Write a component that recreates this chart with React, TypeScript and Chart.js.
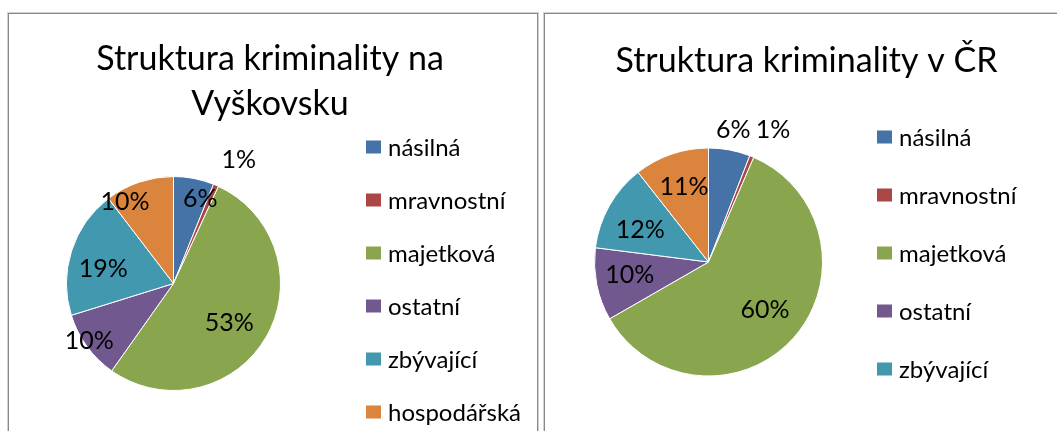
import React, { useEffect, useRef } from 'react';
import { Chart, registerables } from 'chart.js';

Chart.register(...registerables);

const FONT = 'Lato, "Noto Sans", sans-serif';

// ---- data ----
const categories = ['násilná', 'mravnostní', 'majetková', 'ostatní', 'zbývající', 'hospodářská'];
const vyskovValues = [6.1, 0.8, 52.9, 10.4, 19.4, 10.4];
const crValues = [5.9, 0.6, 60.2, 10.3, 12.4, 10.6];
const vyskovTitle = ['Struktura kriminality na', 'Vyškovsku'];
const crTitle = ['Struktura kriminality v ČR'];
const vyskovLegendCount = 6;
const crLegendCount = 5;

// ---- styles / placement ----
const sliceColors = ['#4572A7', '#AA4643', '#89A54E', '#71588F', '#4198AF', '#DB843D'];
const vyskovLabelShift = [6.5, 4.4, 5.5, 1.9, -5.9, -11.8];
const vyskovLabelDist = [0.83, 1.31, 0.64, 0.95, 0.67, 0.89];
const crLabelShift = [0, 3.7, -1.4, 1.7, -4.4, 1];
const crLabelDist = [1.18, 1.29, 0.65, 0.7, 0.66, 0.69];

const CW = 528;
const CH = 470;

const panelPlugin = {
  id: 'panel',
  afterDatasetsDraw(chart: any, _args: any, opts: any) {
    const { ctx } = chart;
    const meta = chart.getDatasetMeta(0);
    const ds = chart.data.datasets[0];
    const values = ds.data as number[];
    const total = values.reduce((a: number, b: number) => a + b, 0);
    ctx.save();
    // data labels
    ctx.fillStyle = '#000';
    ctx.textAlign = 'center';
    ctx.textBaseline = 'middle';
    ctx.font = `${opts.labelSize}px ${FONT}`;
    meta.data.forEach((arc: any, i: number) => {
      const mid = (arc.startAngle + arc.endAngle) / 2 + (opts.labelShift[i] * Math.PI) / 180;
      const d = arc.outerRadius * opts.labelDist[i];
      const x = arc.x + Math.cos(mid) * d;
      const y = arc.y + Math.sin(mid) * d;
      ctx.fillText(`${Math.round((values[i] / total) * 100)}%`, x, y);
    });
    // title
    ctx.font = `${opts.titleSize}px ${FONT}`;
    ctx.textBaseline = 'alphabetic';
    ctx.textAlign = 'center';
    (opts.title as string[]).forEach((line, i) => {
      ctx.fillText(line, opts.titleX, opts.titleY + i * opts.titleLineHeight);
    });
    // legend
    ctx.textAlign = 'left';
    ctx.textBaseline = 'middle';
    ctx.font = `${opts.legendSize}px ${FONT}`;
    const labels = (chart.data.labels as string[]).slice(0, opts.legendCount);
    labels.forEach((lab, i) => {
      const cy = opts.legendY + i * opts.legendStep;
      ctx.fillStyle = ds.backgroundColor[i];
      ctx.fillRect(opts.legendX, cy - opts.boxH / 2, opts.boxW, opts.boxH);
      ctx.fillStyle = '#000';
      ctx.fillText(lab, opts.legendTextX, cy + 1);
    });
    ctx.restore();
  },
};

interface PanelProps {
  values: number[];
  title: string[];
  legendCount: number;
  labelShift: number[];
  labelDist: number[];
  radius: number;
  cx: number;
  cy: number;
  titleX: number;
  titleY: number;
  legendX: number;
  legendY: number;
  legendStep: number;
  left: number;
}

function PiePanel(p: PanelProps) {
  const ref = useRef<HTMLCanvasElement | null>(null);
  useEffect(() => {
    if (!ref.current) return;
    const half = 130;
    const chart = new Chart(ref.current, {
      type: 'pie',
      data: {
        labels: categories,
        datasets: [
          {
            data: p.values,
            backgroundColor: sliceColors,
            borderColor: '#ffffff',
            borderWidth: 1,
            radius: p.radius,
          } as any,
        ],
      },
      options: {
        responsive: false,
        animation: false,
        devicePixelRatio: 1,
        layout: {
          padding: {
            left: p.cx - half,
            right: CW - (p.cx + half),
            top: p.cy - half,
            bottom: CH - (p.cy + half),
          },
        },
        plugins: {
          legend: { display: false },
          title: { display: false },
          tooltip: { enabled: false },
          panel: {
            title: p.title,
            titleSize: 34,
            titleX: p.titleX,
            titleY: p.titleY,
            titleLineHeight: 45,
            labelSize: 25,
            labelShift: p.labelShift,
            labelDist: p.labelDist,
            legendSize: 24,
            legendCount: p.legendCount,
            legendX: p.legendX,
            legendTextX: p.legendX + 22,
            legendY: p.legendY,
            legendStep: p.legendStep,
            boxW: 15,
            boxH: 13,
          },
        } as any,
      },
      plugins: [panelPlugin],
    });
    return () => chart.destroy();
  }, []);
  return (
    <div
      style={{
        position: 'absolute',
        left: p.left,
        top: 13,
        width: CW,
        height: CH,
        border: '1px solid #898989',
        boxShadow: '0 0 0 1px #d2d2d2',
        background: '#fff',
      }}
    >
      <canvas ref={ref} width={CW} height={CH} style={{ display: 'block', width: CW, height: CH }} />
    </div>
  );
}

export default function App() {
  return (
    <div
      style={{
        position: 'fixed',
        left: 0,
        top: 0,
        width: 1057,
        height: 431,
        overflow: 'hidden',
        background: '#fff',
      }}
    >
      <PiePanel
        values={vyskovValues}
        title={vyskovTitle}
        legendCount={vyskovLegendCount}
        labelShift={vyskovLabelShift}
        labelDist={vyskovLabelDist}
        radius={107}
        cx={164.5}
        cy={269.5}
        titleX={261}
        titleY={56}
        legendX={357}
        legendY={133}
        legendStep={53}
        left={8}
      />
      <PiePanel
        values={crValues}
        title={crTitle}
        legendCount={crLegendCount}
        labelShift={crLabelShift}
        labelDist={crLabelDist}
        radius={114}
        cx={163.5}
        cy={248}
        titleX={261.5}
        titleY={57.5}
        legendX={332}
        legendY={123}
        legendStep={58}
        left={544}
      />
    </div>
  );
}
